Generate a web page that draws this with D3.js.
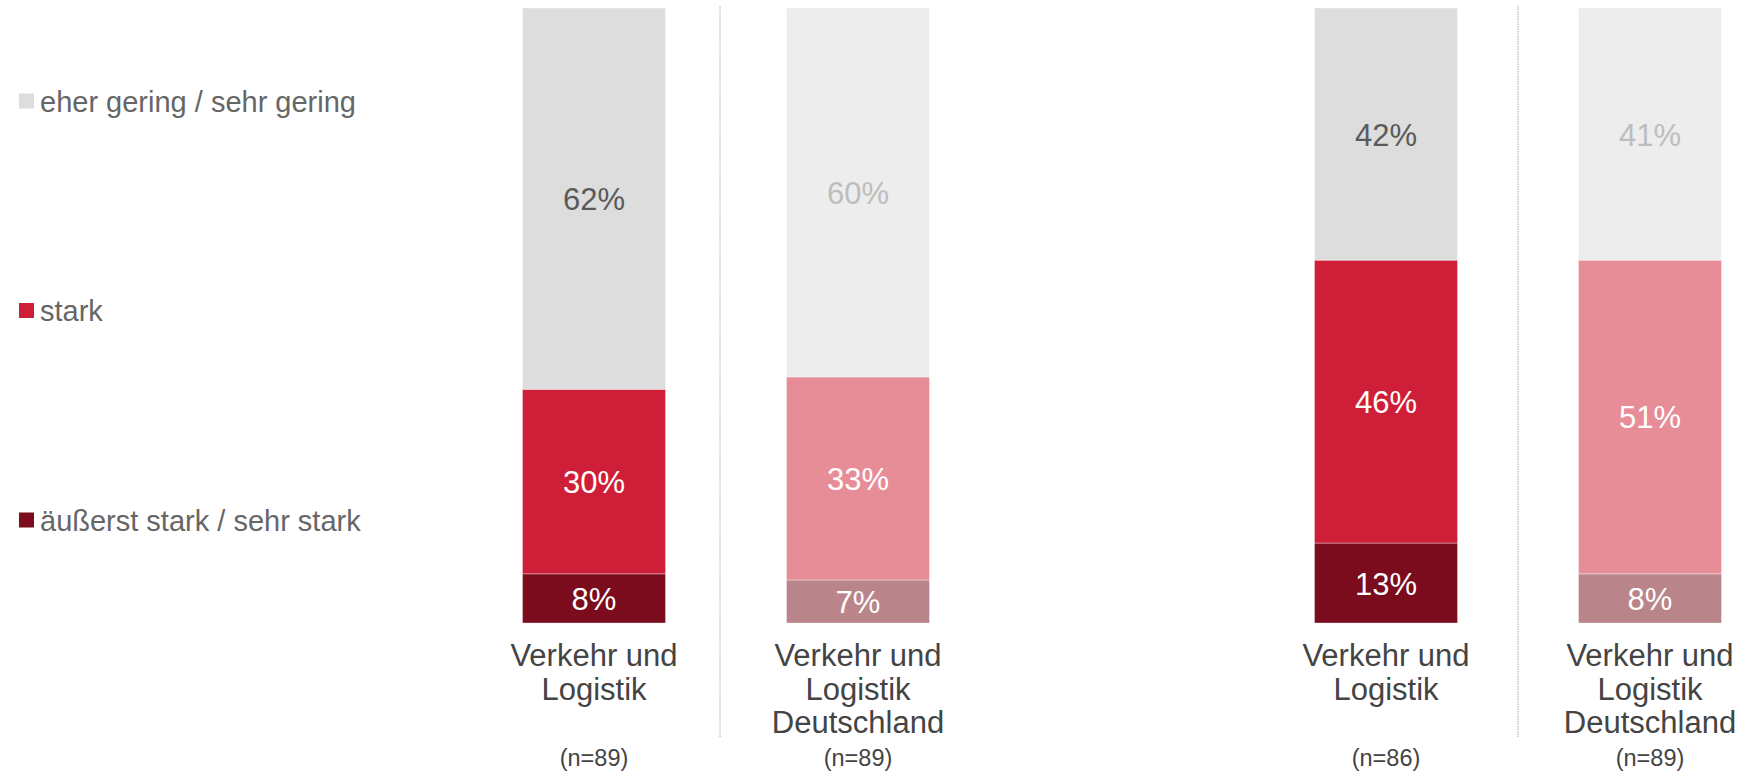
<!DOCTYPE html>
<html>
<head>
<meta charset="utf-8">
<script src="https://cdn.jsdelivr.net/npm/d3@7"></script>
<style>
  html, body { margin: 0; padding: 0; background: #fff; }
  svg { display: block; font-family: "Liberation Sans", Arial, sans-serif; }
</style>
</head>
<body>
<script>
var w = 1742;
var h = 775;

// categories (label lines) and sample sizes
var categories = [
  ["Verkehr und", "Logistik"],
  ["Verkehr und", "Logistik", "Deutschland"],
  ["Verkehr und", "Logistik"],
  ["Verkehr und", "Logistik", "Deutschland"]
];
var sampleSizes = ["(n=89)", "(n=89)", "(n=86)", "(n=89)"];
// slot keys, middle one left empty as gap between the two blocks
var slots = ["a1", "a2", "gap", "b1", "b2"];
var barSlots = ["a1", "a2", "b1", "b2"];

// series, bottom to top
var seriesNames = ["äußerst stark / sehr stark", "stark", "eher gering / sehr gering"];
var sehrStark = [8, 7, 13, 8];
var stark = [30, 33, 46, 51];
var gering = [62, 60, 42, 41];

// legend order, top to bottom
var legendNames = ["eher gering / sehr gering", "stark", "äußerst stark / sehr stark"];

var colorsMain = { "äußerst stark / sehr stark": "#7a0c1d", "stark": "#cf1f38", "eher gering / sehr gering": "#dddddd" };
var colorsLight = { "äußerst stark / sehr stark": "#ba848b", "stark": "#e78d98", "eher gering / sehr gering": "#ededed" };
var labelMain = { "äußerst stark / sehr stark": "#ffffff", "stark": "#ffffff", "eher gering / sehr gering": "#5a5a5a" };
var labelLight = { "äußerst stark / sehr stark": "#ffffff", "stark": "#ffffff", "eher gering / sehr gering": "#bdbdbd" };

var svg = d3.select("body")
            .append("svg")
              .attr("width", w)
              .attr("height", h);

var x = d3.scalePoint()
  .domain(slots)
  .range([594, 1650]);

var barW = 143;

// percent scale, anything over 100 is cut at the top
var y = d3.scaleLinear()
  .domain([0, 100])
  .range([623, 8])
  .clamp(true);

// build stacked rows
var rows = barSlots.map(function(s, i) {
  var vals = [sehrStark[i], stark[i], gering[i]];
  var acc = 0;
  return {
    slot: s,
    light: i % 2 === 1,
    segs: vals.map(function(v, k) {
      var seg = { name: seriesNames[k], value: v, y0: acc, y1: acc + v, light: i % 2 === 1 };
      acc += v;
      return seg;
    })
  };
});

// dotted separators in the middle of each block
var sepX = [(x("a1") + x("a2")) / 2 - 6, (x("b1") + x("b2")) / 2];
svg.selectAll("line.sep")
  .data(sepX)
  .enter()
  .append("line")
  .attr("class", "sep")
  .attr("x1", function(d) { return d; })
  .attr("x2", function(d) { return d; })
  .attr("y1", 6)
  .attr("y2", 737)
  .attr("stroke", "#a8a8a8")
  .attr("stroke-width", 1)
  .attr("stroke-dasharray", "1.5,1");

var bars = svg.selectAll("g.bar")
  .data(rows)
  .enter()
  .append("g")
  .attr("class", "bar")
  .attr("transform", function(d) { return "translate(" + (x(d.slot) - barW / 2) + ",0)"; });

bars.selectAll("rect")
  .data(function(d) { return d.segs; })
  .enter()
  .append("rect")
  .attr("x", 0)
  .attr("width", barW)
  .attr("y", function(d) { return y(d.y1); })
  .attr("height", function(d) { return y(d.y0) - y(d.y1); })
  .attr("fill", function(d) { return d.light ? colorsLight[d.name] : colorsMain[d.name]; })
  .attr("stroke", "#ffffff")
  .attr("stroke-opacity", 0.35)
  .attr("stroke-width", 1);

bars.selectAll("text.val")
  .data(function(d) { return d.segs; })
  .enter()
  .append("text")
  .attr("class", "val")
  .attr("x", barW / 2)
  .attr("y", function(d) { return (y(d.y0) + y(d.y1)) / 2 + 11.5; })
  .attr("text-anchor", "middle")
  .attr("font-size", 31)
  .attr("fill", function(d) { return d.light ? labelLight[d.name] : labelMain[d.name]; })
  .text(function(d) { return d.value + "%"; });

// category labels
svg.selectAll("text.cat")
  .data(barSlots)
  .enter()
  .append("text")
  .attr("class", "cat")
  .attr("text-anchor", "middle")
  .attr("font-size", 31)
  .attr("fill", "#444444")
  .each(function(s, i) {
    d3.select(this).selectAll("tspan")
      .data(categories[i])
      .enter()
      .append("tspan")
      .attr("x", x(s))
      .attr("y", function(d, j) { return 666 + j * 33.7; })
      .text(function(d) { return d; });
  });

svg.selectAll("text.n")
  .data(barSlots)
  .enter()
  .append("text")
  .attr("class", "n")
  .attr("x", function(d) { return x(d); })
  .attr("y", 766)
  .attr("text-anchor", "middle")
  .attr("font-size", 23.5)
  .attr("fill", "#444444")
  .text(function(d, i) { return sampleSizes[i]; });

// legend
var ly = d3.scalePoint()
  .domain(legendNames)
  .range([101, 520]);

var legend = svg.selectAll("g.legend")
  .data(legendNames)
  .enter()
  .append("g")
  .attr("class", "legend")
  .attr("transform", function(d) { return "translate(19," + ly(d) + ")"; });

legend.append("rect")
  .attr("x", 0)
  .attr("y", -7.5)
  .attr("width", 15)
  .attr("height", 15)
  .attr("fill", function(d) { return colorsMain[d]; });

legend.append("text")
  .attr("x", 21)
  .attr("y", 10.5)
  .attr("font-size", 29)
  .attr("fill", "#666666")
  .text(function(d) { return d; });
</script>
</body>
</html>
